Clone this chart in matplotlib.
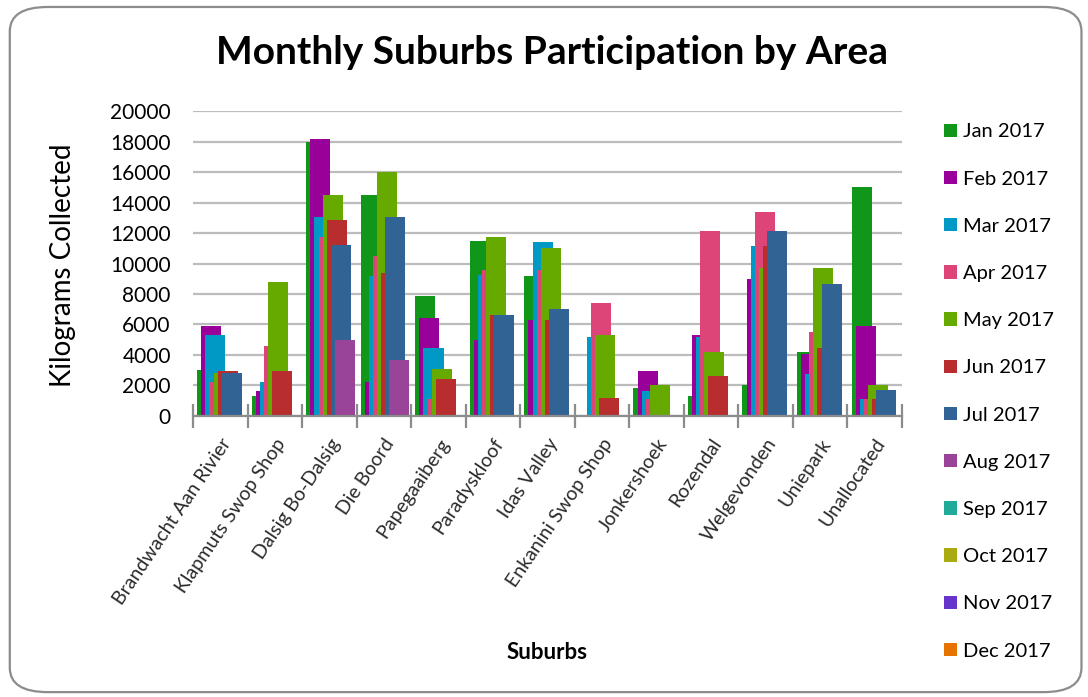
import matplotlib.pyplot as plt
import numpy as np
from matplotlib.patches import FancyBboxPatch

plt.rcParams["font.family"] = ["Lato", "DejaVu Sans"]

SUBURBS = [
    "Brandwacht Aan Rivier",
    "Klapmuts Swop Shop",
    "Dalsig Bo-Dalsig",
    "Die Boord",
    "Papegaaiberg",
    "Paradyskloof",
    "Idas Valley",
    "Enkanini Swop Shop",
    "Jonkershoek",
    "Rozendal",
    "Welgevonden",
    "Uniepark",
    "Unallocated",
]
MONTHS = [
    "Jan 2017", "Feb 2017", "Mar 2017", "Apr 2017", "May 2017", "Jun 2017",
    "Jul 2017", "Aug 2017", "Sep 2017", "Oct 2017", "Nov 2017", "Dec 2017",
]

# kilograms collected per suburb, one list per month
jan = [3000, 1300, 18000, 14500, 7900, 11500, 9200, 0, 1850, 1300, 2000, 4200, 15000]
feb = [5900, 1650, 18150, 2200, 6450, 5000, 6300, 0, 2950, 5300, 9000, 4050, 5900]
mar = [5300, 2200, 13050, 9200, 4450, 9250, 11400, 5150, 1650, 5150, 11150, 2750, 1100]
apr = [2200, 4600, 11750, 10500, 1100, 9550, 9550, 7400, 1100, 12100, 13400, 5500, 1100]
may = [2800, 8800, 14500, 16000, 3100, 11750, 11000, 5300, 2000, 4200, 9700, 9700, 2000]
jun = [2950, 2950, 12850, 9400, 2400, 6600, 6300, 1150, 0, 2600, 11150, 4450, 1100]
jul = [2800, 0, 11200, 13050, 0, 6600, 7000, 0, 0, 0, 12100, 8650, 1700]
aug = [0, 0, 5000, 3700, 0, 0, 0, 0, 0, 0, 0, 0, 0]
sep = [0] * 13
oct_ = [0] * 13
nov = [0] * 13
dec = [0] * 13
SERIES = [jan, feb, mar, apr, may, jun, jul, aug, sep, oct_, nov, dec]

COLORS = [
    "#109618", "#990099", "#0099c6", "#dd4477", "#66aa00", "#b82e2e",
    "#316395", "#994499", "#22aa99", "#aaaa11", "#6633cc", "#e67300",
]

fig = plt.figure(figsize=(10.88, 6.97), dpi=100)
fig.patches.append(
    FancyBboxPatch(
        (0.009, 0.007), 0.985, 0.983,
        boxstyle="round,pad=0,rounding_size=0.035",
        transform=fig.transFigure, facecolor="white",
        edgecolor="#8c8c8c", linewidth=1.6, zorder=-10,
    )
)

ax = fig.add_axes([0.1774, 0.4032, 0.6515, 0.4375])
ax.set_facecolor("none")

# overlapping clustered columns: each month shifted a little to the right
x = np.arange(len(SUBURBS), dtype=float)
bar_w = 0.367
step = 0.075
start = 0.077
for j, (vals, month) in enumerate(zip(SERIES, MONTHS)):
    ax.bar(
        x + start + j * step, vals, width=bar_w, align="edge",
        color=COLORS[j], label=month, linewidth=0, zorder=2 + j,
    )

ax.set_xlim(0, len(SUBURBS))
ax.set_ylim(0, 20000)
ax.set_yticks(np.arange(0, 20001, 2000))
ax.yaxis.grid(True, color="#bcbcbc", linewidth=1.6, zorder=0)
ax.set_axisbelow(True)
ax.tick_params(axis="y", length=0, pad=16, labelsize=15)

ax.set_xticks(np.arange(0, len(SUBURBS) + 0.01, 0.5), minor=True)
ax.set_xticks(x + 0.5)
ax.set_xticklabels(SUBURBS, rotation=56, ha="right", va="top",
                   rotation_mode="anchor", fontsize=14, color="#2a2a2a")
ax.tick_params(axis="x", which="major", length=0, pad=14)
ax.tick_params(axis="x", which="minor", length=17, width=1.6,
               color="#8c8c8c", direction="inout")

for side in ("left", "top", "right"):
    ax.spines[side].set_visible(False)
ax.spines["bottom"].set_color("#8c8c8c")
ax.spines["bottom"].set_linewidth(1.6)
ax.spines["bottom"].set_zorder(20)

fig.text(0.058, 0.62, "Kilograms Collected", rotation=90,
         ha="center", va="center", fontsize=20)

fig.text(0.507, 0.925, "Monthly Suburbs Participation by Area",
         ha="center", va="center", fontsize=28, fontweight="bold")
fig.text(0.503, 0.064, "Suburbs", ha="center", va="center",
         fontsize=16, fontweight="bold")

fig.legend(
    loc="upper left", bbox_to_anchor=(0.8676, 0.823), frameon=False,
    fontsize=14.5, labelspacing=1.5, handlelength=0.65, handleheight=0.65,
    handletextpad=0.3, borderaxespad=0, borderpad=0,
)

fig.savefig("out.png", dpi=100)
